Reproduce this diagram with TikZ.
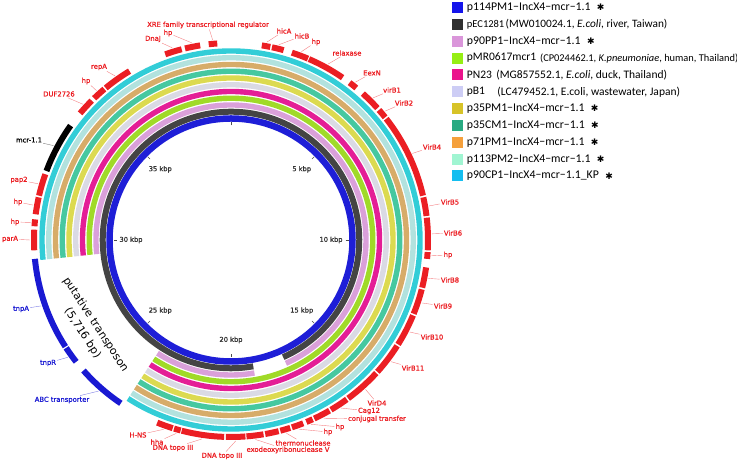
\documentclass[tikz,border=0pt]{standalone}
\usepackage{fontspec}
\setmainfont{DejaVu Sans}
\newfontfamily\legfont{Carlito}
\newfontfamily\lblfont{DejaVu Sans}[FakeBold=1]
\usetikzlibrary{positioning}

% ring colours (as drawn) and legend colours
\definecolor{ringA}{RGB}{30,30,215}
\definecolor{ringB}{RGB}{68,68,68}
\definecolor{ringC}{RGB}{218,160,218}
\definecolor{ringD}{RGB}{160,218,40}
\definecolor{ringE}{RGB}{228,30,150}
\definecolor{ringF}{RGB}{218,218,228}
\definecolor{ringG}{RGB}{220,218,80}
\definecolor{ringH}{RGB}{70,200,160}
\definecolor{ringI}{RGB}{215,172,105}
\definecolor{ringJ}{RGB}{178,226,222}
\definecolor{ringK}{RGB}{50,205,215}
\definecolor{legA}{RGB}{20,20,235}
\definecolor{legB}{RGB}{48,48,48}
\definecolor{legC}{RGB}{218,150,218}
\definecolor{legD}{RGB}{150,238,20}
\definecolor{legE}{RGB}{235,20,140}
\definecolor{legF}{RGB}{205,205,245}
\definecolor{legG}{RGB}{215,195,40}
\definecolor{legH}{RGB}{40,170,130}
\definecolor{legI}{RGB}{245,160,60}
\definecolor{legJ}{RGB}{160,245,210}
\definecolor{legK}{RGB}{20,190,240}
\definecolor{geneRed}{RGB}{235,30,35}
\definecolor{geneBlue}{RGB}{25,25,210}

% colour, radius, width, from, to (degrees clockwise from the top)
\newcommand{\ringarc}[5]{%
  \draw[draw=#1, line width=#3] (C) ++({90-(#4)}:#2)
    arc[start angle={90-(#4)}, end angle={90-(#5)}, radius=#2];}

\begin{document}
\begin{tikzpicture}[x=1pt, y=1pt,
  genelbl/.style={font=\lblfont\fontsize{6.8}{8}\selectfont, inner sep=1pt},
  pointer/.style={line width=0.4},
  kbplbl/.style={font=\lblfont\fontsize{6.7}{8}\selectfont, text=black!80, inner sep=0},
  legbox/.style={minimum size=11, inner sep=0},
  legtxt/.style={font=\legfont\fontsize{11.5}{13}\selectfont, inner sep=0, anchor=west},
  legstar/.style={font=\fontsize{9}{10}\selectfont, inner sep=0}]
\useasboundingbox (0,0) rectangle (737,462);
\coordinate (C) at (231,222);

% comparison rings
\draw[ringA, line width=6.5] (C) circle[radius=121.5];
\ringarc{ringB}{128.25}{6}{170}{516}
\ringarc{ringC}{135}{5.4}{170}{213}
\ringarc{ringC}{135}{5.4}{264}{516}
\foreach \k/\col in {3/ringD,4/ringE,5/ringF,6/ringG,7/ringH,8/ringI,9/ringJ,10/ringK}{
  \pgfmathsetmacro\rr{121.5+6.75*\k}
  \ringarc{\col}{\rr}{5.4}{264}{573}
}

% scale
\foreach \k/\v in {1/5,2/10,3/15,4/20,5/25,6/30,7/35}{
  \path (C) ++({90-45*\k}:100) node[kbplbl] (k\k) {\v\ kbp};
}
\foreach \k in {0,...,7}
  \draw[black!70, line width=0.5] (C) ++({90-45*\k}:114.5) -- ++({90-45*\k}:3);

% genes
\foreach \a/\b/\lx/\ly/\txt [count=\n] in {
  310/315/59/368/DUF2726, 316/320/86/381/hp, 320.5/329/99/395/repA,
  340.5/345.5/153/423/DnaJ, 346.5/351/168/429/hp,
  353.5/356/208/437/XRE family transcriptional regulator,
  9/11.5/284/431/hicA, 12/15.5/302/426/hicB, 18/23/316/420/hp,
  23.3/34.5/347/409/relaxase, 37/39.5/372/389/EexN, 42/48/392/372/virB1,
  48.7/51.5/404/359/VirB2, 52/77/432/315/VirB4, 77.5/83/450/260/VirB5,
  83.5/93/453/229/VirB6, 93.5/95.5/448/207/hp, 98/104/450/182/VirB8,
  104.5/112/443/156/VirB9, 112.5/122/432/125/VirB10, 122.5/132/413/94/VirB11,
  132.5/143.5/377/59/VirD4, 144/149.5/369/51/Cag12,
  150/155/377/43/conjugal transfer, 155.5/157.5/340/35/hp, 158.5/162/328/30/hp,
  162.5/165.5/303/19/thermonuclease, 170.5/175.5/288/12/exodeoxyribonuclease V,
  175.8/181.5/222/6/DNA topo III, 182/194.5/173/14/DNA topo III,
  194.8/196.8/157/20/hha, 197.2/202/138/27/H-NS,
  267/273/10/223/parA, 274/276/15/240/hp, 277.5/282.5/18/260/hp,
  283/289.5/19/282/pap2}{
  \ringarc{geneRed}{197}{6}{\a}{\b}
  \path (C) ++({90-(\a+\b)/2}:201) coordinate (gr\n);
  \node[genelbl, text=geneRed] (lr\n) at (\lx,\ly) {\txt};
  \draw[pointer, draw=geneRed!55] (gr\n) -- (lr\n);
}
\ringarc{geneRed}{197}{6}{166}{170}

\foreach \a/\b/\lx/\ly/\txt [count=\n] in {
  237.2/264.5/21/153/tnpA, 231.8/236.8/48/99/tnpR,
  214/228.5/62/62/ABC transporter}{
  \ringarc{geneBlue}{197}{6}{\a}{\b}
  \path (C) ++({90-(\a+\b)/2}:201) coordinate (gb\n);
  \node[genelbl, text=geneBlue] (lb\n) at (\lx,\ly) {\txt};
  \draw[pointer, draw=geneBlue!55] (gb\n) -- (lb\n);
}

\ringarc{black}{197}{6}{290.5}{305.5}
\path (C) ++({90-298}:201) coordinate (gmcr);
\node[genelbl] (lmcr) at (29,322) {mcr-1.1};
\draw[pointer, draw=black!50] (gmcr) -- (lmcr);

\node[rotate=-57, align=center, font=\fontsize{11}{15.5}\selectfont] (tnlbl)
  at (89,133) {putative transposon\\(5,716 bp)};

% legend
\foreach \i/\col in {1/legA,2/legB,3/legC,4/legD,5/legE,6/legF,7/legG,8/legH,9/legI,10/legJ,11/legK}
  \node[legbox, fill=\col] (b\i) at (457.5,{454.5-16.85*(\i-1)}) {};
\tikzset{incx/.style={legtxt, font=\legfont\fontsize{11.8}{13}\selectfont}}
\node[incx, right=3.5pt of b1] (t1) {p114PM1−IncX4−mcr−1.1};
\node[legtxt, right=3.5pt of b2, font=\legfont\fontsize{10.5}{12}\selectfont] (t2) {pEC1281};
\node[incx, right=3.5pt of b3] (t3) {p90PP1−IncX4−mcr−1.1};
\node[legtxt, right=3.5pt of b4] (t4) {pMR0617mcr1};
\node[legtxt, right=3.5pt of b5] (t5) {PN23};
\node[legtxt, right=3.5pt of b6] (t6) {pB1};
\node[incx, right=3.5pt of b7] (t7) {p35PM1−IncX4−mcr−1.1};
\node[incx, right=3.5pt of b8] (t8) {p35CM1−IncX4−mcr−1.1};
\node[incx, right=3.5pt of b9] (t9) {p71PM1−IncX4−mcr−1.1};
\node[incx, right=3.5pt of b10] (t10) {p113PM2−IncX4−mcr−1.1};
\node[incx, right=3.5pt of b11] (t11) {p90CP1−IncX4−mcr−1.1\_KP};
\node[legtxt, right=1pt of t2, font=\legfont\fontsize{11.3}{13}\selectfont] (p2) {(MW010024.1, \textit{E.coli}, river, Taiwan)};
\node[legtxt, right=3.5pt of t4, font=\legfont\fontsize{10.4}{12}\selectfont] (p4) {(CP024462.1, \textit{K.pneumoniae}, human, Thailand)};
\node[legtxt, right=4pt of t5] (p5) {(MG857552.1, \textit{E.coli}, duck, Thailand)};
\node[legtxt, right=12pt of t6] (p6) {(LC479452.1, E.coli, wastewater, Japan)};
\foreach \i in {1,3,7,8,9,10,11}
  \node[legstar, right=6pt of t\i] (s\i) {✱};
\end{tikzpicture}
\end{document}
